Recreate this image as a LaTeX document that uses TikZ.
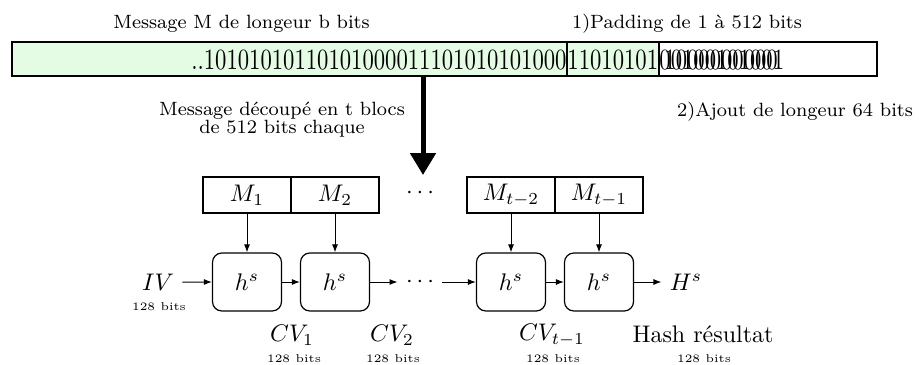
\documentclass[tikz,border=0pt]{standalone}
\usepackage{graphicx}
\usetikzlibrary{arrows.meta}
\definecolor{lg}{RGB}{228,251,228}
\begin{document}
\begin{tikzpicture}[x=0.75pt,y=-0.75pt,
  seg/.style={draw, line width=1.2pt, minimum height=25.5pt, inner sep=0pt, outer sep=0pt},
  bits/.style={font=\fontsize{10}{12}\selectfont, xscale=1.7, yscale=2.2, inner sep=0pt},
  lbl/.style={font=\fontsize{8}{9.5}\selectfont, scale=1.8, inner sep=0pt},
  mth/.style={font=\fontsize{10}{12}\selectfont, scale=1.8},
  smallbits/.style={font=\fontsize{5}{6}\selectfont, scale=1.7, inner sep=0pt},
  mbox/.style={draw, line width=0.9pt, minimum width=66pt, minimum height=27pt, inner sep=0pt},
  hbox/.style={draw, rounded corners=7pt, line width=0.9pt, minimum width=51.75pt, minimum height=43.5pt, inner sep=0pt},
  arr/.style={-{Latex[length=6pt,width=4.5pt]}, line width=0.75pt}
]
\useasboundingbox (0,0) rectangle (919,364);

% message bar
\node[seg, fill=lg, minimum width=416.25pt] (s1) at (289.5,59) {};
\node[seg, fill=lg, minimum width=69pt] (s2) at (613,59) {};
\node[seg, fill=white, minimum width=163.5pt] (s3) at (768,59) {};

\node[bits, anchor=east] (b1) at (567,60) {..10101010110101000011101010101000};
\node[bits, anchor=west] (b2) at (567,60) {11010101};
\node[bits, anchor=west] (b3) at (659,60) {00100101001};
\node[bits, anchor=west] (b4) at (664,60) {1000000000};

% labels
\node[lbl, anchor=base] (lm) at (241.5,28) {Message M de longeur b bits};
\node[lbl, anchor=base] (lp) at (687,28) {1)Padding de 1 à 512 bits};
\node[lbl, align=center, font=\fontsize{8}{7.5}\selectfont] (ld) at (282,120) {Message découpé en t blocs\\de 512 bits chaque};
\node[lbl, anchor=base] (la) at (795,116) {2)Ajout de longeur 64 bits};

% thick arrow
\coordinate (ta) at (423,76);
\coordinate (tb) at (423,175);
\draw[line width=3.75pt, -{Triangle[length=16.5pt,width=18.75pt]}] (ta) -- (tb);

% message blocks
\node[mbox] (m1) at (247,195) {\scalebox{1.8}{$M_1$}};
\node[mbox] (m2) at (335,195) {\scalebox{1.8}{$M_2$}};
\node[mbox] (m3) at (511,195) {\scalebox{1.8}{$M_{t-2}$}};
\node[mbox] (m4) at (599,195) {\scalebox{1.8}{$M_{t-1}$}};
\node[mth] (dtop) at (420,193) {$\cdots$};

% compression functions
\node[hbox] (h1) at (247,282) {\scalebox{1.8}{$h^s$}};
\node[hbox] (h2) at (335,282) {\scalebox{1.8}{$h^s$}};
\node[hbox] (h3) at (511,282) {\scalebox{1.8}{$h^s$}};
\node[hbox] (h4) at (599,282) {\scalebox{1.8}{$h^s$}};

\node[mth] (iv) at (158,282) {$IV$};
\node[mth] (dmid) at (420,282) {$\cdots$};
\node[mth] (hs) at (686,282) {$H^s$};

\draw[arr] (iv) -- (h1);
\draw[arr] (h1) -- (h2);
\draw[arr] (h2) -- (dmid);
\draw[arr] (dmid) -- (h3);
\draw[arr] (h3) -- (h4);
\draw[arr] (h4) -- (hs);

\draw[arr] (m1) -- (h1);
\draw[arr] (m2) -- (h2);
\draw[arr] (m3) -- (h3);
\draw[arr] (m4) -- (h4);

% chaining values
\node[mth] (cv1) at (292,335) {$CV_1$};
\node[mth] (cv2) at (392,335) {$CV_2$};
\node[mth] (cv3) at (552,335) {$CV_{t-1}$};
\node[mth] (hr) at (703,334) {Hash résultat};

\node[smallbits] (biv) at (159,307) {128 bits};
\node[smallbits] (bcv1) at (294,359) {128 bits};
\node[smallbits] (bcv2) at (393,359) {128 bits};
\node[smallbits] (bcv3) at (553,359) {128 bits};
\node[smallbits] (bhr) at (704,359) {128 bits};
\end{tikzpicture}
\end{document}
